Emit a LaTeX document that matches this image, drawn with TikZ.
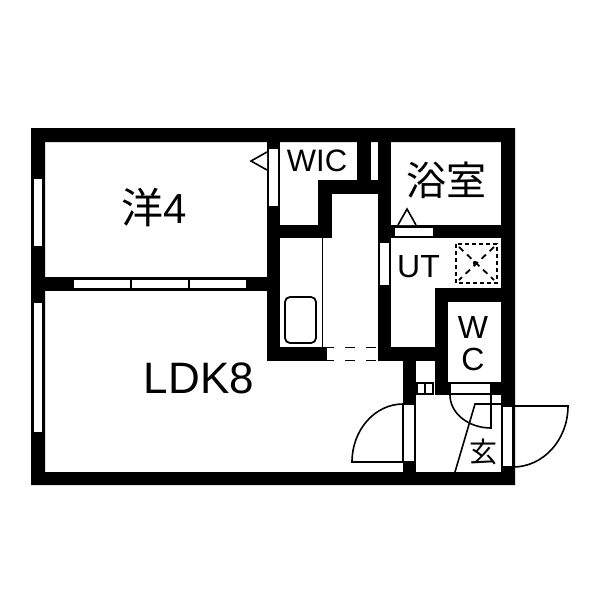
\documentclass[tikz,border=0pt]{standalone}
\usepackage{fontspec}
\setmainfont{Liberation Sans}
\newfontfamily\cjk{Noto Sans CJK JP}
\tikzset{
  wall/.style={fill=black,draw=none},
  opening/.style={fill=white,draw=black,line width=1.3pt},
  thin line/.style={draw=black,line width=1.6pt},
  room label/.style={inner sep=0pt,text=black},
}
\newcommand{\sized}[1]{\fontsize{#1}{#1}\selectfont}
\begin{document}
\begin{tikzpicture}[x=1pt,y=-1pt]
\useasboundingbox[fill=white] (0,0) rectangle (600,600);

% outer walls
\fill[wall,even odd rule] (31,128) rectangle (515,485) (45,142) rectangle (501,472);

% inner walls
\fill[wall] (45,277) rectangle (267,291);
\fill[wall] (267,128) rectangle (280,361);
\fill[wall] (280,225) rectangle (332,238);
\fill[wall] (318,180) rectangle (332,238);
\fill[wall] (318,180) rectangle (391,194);
\fill[wall] (357,142) rectangle (371,194);
\fill[wall] (378,142) rectangle (391,361);
\fill[wall] (391,225) rectangle (501,238);
\fill[wall] (435,288) rectangle (501,302);
\fill[wall] (435,288) rectangle (448,395);
\fill[wall] (280,347) rectangle (327,361);
\fill[wall] (391,347) rectangle (435,361);
\fill[wall] (403,347) rectangle (416,472);
\fill[wall] (448,382) rectangle (501,395);

% windows
\draw[opening] (33,178) rectangle (43,247);
\draw[opening] (33,302) rectangle (43,433);
\draw[opening] (73,279) rectangle (131,289);
\draw[opening] (131,279) rectangle (189,289);
\draw[opening] (189,279) rectangle (247,289);

% doors
\draw[opening] (268,148) rectangle (279,207);
\draw[opening] (379,242) rectangle (390,286);
\draw[opening] (394,227) rectangle (434,237);
\draw[opening] (403,404) rectangle (415,462);
\draw[opening] (450,383) rectangle (491,394);
\draw[opening] (502,406) rectangle (513,467);
\draw[opening] (417,383) rectangle (425,394);
\draw[opening] (425,383) rectangle (433,394);

% door triangles
\draw[thin line,fill=white] (267,152) -- (251,161) -- (267,170);
\draw[thin line,fill=white] (398,225) -- (407,209) -- (416,225);

% door swings
\draw[thin line] (403,462) -- (352,462) arc[start angle=180,end angle=270,x radius=51,y radius=58];
\draw[thin line] (513,406) -- (568,406) arc[start angle=0,end angle=90,x radius=55,y radius=61];
\draw[thin line] (450,395) arc[start angle=180,end angle=90,x radius=41,y radius=33] -- (491,394);

% opening to the kitchen
\draw[line width=1.8pt,dash pattern=on 10pt off 11pt,dash phase=3pt] (327,347.5) -- (378,347.5);
\draw[line width=1.8pt,dash pattern=on 10pt off 11pt,dash phase=3pt] (327,360.5) -- (378,360.5);

% kitchen
\draw[thin line] (322.5,238) -- (322.5,347);
\draw[thin line,line width=1.8pt,rounded corners=5pt] (285,297) rectangle (316,343);

% step at the entrance
\draw[thin line] (501,404) -- (475,404) -- (455,472);

% washing machine
\begin{scope}[line width=1.8pt]
\draw[dash pattern=on 4pt off 3pt] (456,244) rectangle (497,283);
\draw[dash pattern=on 6pt off 5pt] (459,247) -- (494,280);
\draw[dash pattern=on 6pt off 5pt] (494,247) -- (459,280);
\fill (475,263) circle (2.2);
\end{scope}

% labels
\node[room label] (western) at (154,208) {\sized{42}\cjk 洋\rmfamily 4};
\node[room label] (living) at (199,378.5) {\sized{44}LDK8};
\node[room label] (closet) at (317,160.5) {\sized{31}WIC};
\node[room label] (bath) at (446.5,180) {\sized{40}\cjk 浴室};
\node[room label] (utility) at (418.5,266.5) {\sized{32}UT};
\node[room label] (toiletw) at (473,327) {\sized{32}W};
\node[room label] (toiletc) at (473,359) {\sized{32}C};
\node[room label] (entrance) at (483,452) {\sized{28}\cjk 玄};
\end{tikzpicture}
\end{document}
